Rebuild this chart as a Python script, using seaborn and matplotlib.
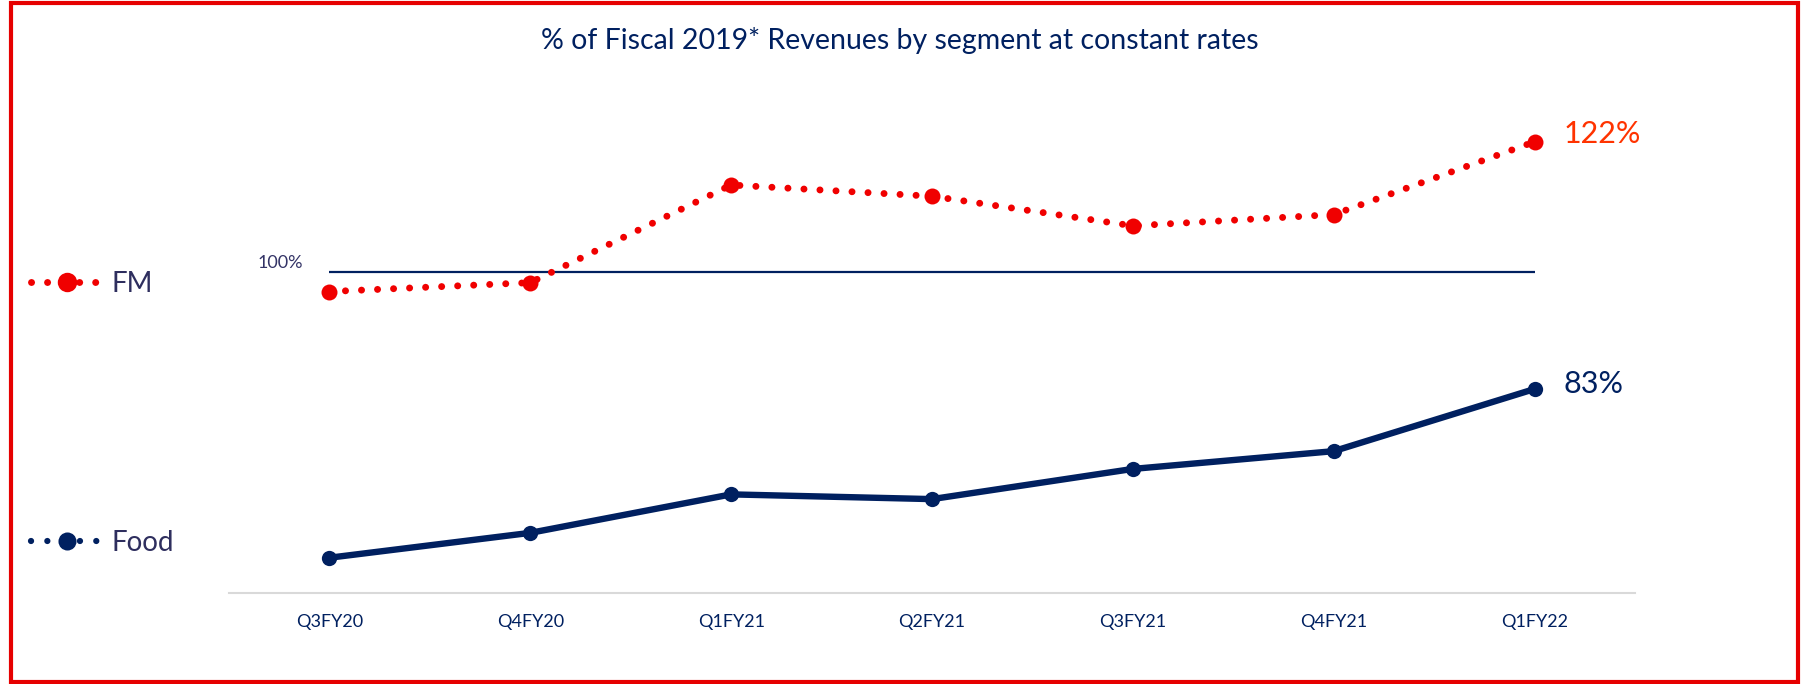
import matplotlib
matplotlib.use("Agg")
import matplotlib.pyplot as plt
import pandas as pd
import seaborn as sns
from matplotlib.lines import Line2D
from matplotlib.patches import Rectangle

quarters = ["Q3FY20", "Q4FY20", "Q1FY21", "Q2FY21", "Q3FY21", "Q4FY21", "Q1FY22"]
fm_pct = [96.7, 98.2, 114.7, 112.8, 107.8, 109.7, 122]
food_pct = [54.5, 58.7, 65.2, 64.4, 69.5, 72.5, 83]
baseline = 100
title = "% of Fiscal 2019* Revenues by segment at constant rates"

RED = "#F00000"
NAVY = "#002060"
LABEL_RED = "#FF3300"
LEGEND_TXT = "#2E2E5E"
GRID_GRAY = "#D9D9D9"

sns.set_style("white")
plt.rcParams["font.family"] = ["Lato", "DejaVu Sans"]
plt.rcParams["lines.dash_capstyle"] = "round"

df = pd.DataFrame({"quarter": quarters, "FM": fm_pct, "Food": food_pct})

W, H = 1803, 684
fig = plt.figure(figsize=(W / 100, H / 100), dpi=100)
fig.patch.set_facecolor("white")

# axes placed in pixel terms: x from 229 to 1635, y from 100 (top) to 592.7 (axis line)
ax = fig.add_axes([229 / W, (H - 592.7) / H, (1635 - 229) / W, (592.7 - 100) / H])
ax2 = ax.twinx()

px_per_unit = 5.92
# Food: 83 sits at y=389px
ax.set_ylim(83 - (592.7 - 389) / px_per_unit, 83 + (389 - 100) / px_per_unit)
# FM: 100 sits at y=272px
ax2.set_ylim(100 - (592.7 - 272) / px_per_unit, 100 + (272 - 100) / px_per_unit)

sns.lineplot(data=df, x="quarter", y="Food", ax=ax, sort=False, color=NAVY,
             lw=4.6, marker="o", ms=11, markeredgewidth=0)
ax2.hlines(baseline, 0, len(quarters) - 1, color=NAVY, lw=1.6, zorder=1)
sns.lineplot(data=df, x="quarter", y="FM", ax=ax2, sort=False, color=RED,
             lw=5, linestyle=(0, (0.01, 2.3)), marker="o", ms=11.5,
             markeredgewidth=0, zorder=3)

for a in (ax, ax2):
    a.set_xlim(-0.5, len(quarters) - 0.5)
    a.set_ylabel("")
    a.set_xlabel("")
    a.set_yticks([])
    for s in a.spines.values():
        s.set_visible(False)

ax.spines["bottom"].set_visible(True)
ax.spines["bottom"].set_color(GRID_GRAY)
ax.spines["bottom"].set_linewidth(1.5)
ax.set_xticks(range(len(quarters)))
ax.set_xticklabels(quarters)
ax.set_xticks([i - 0.5 for i in range(len(quarters) + 1)], minor=True)
ax.tick_params(axis="x", which="major", length=0, pad=15, labelsize=13, labelcolor=NAVY)
ax.tick_params(axis="x", which="minor", length=6, width=1.2, color=GRID_GRAY, direction="out")
ax.grid(False)
ax2.grid(False)

ax2.annotate(f"{baseline}%", xy=(0, baseline), xytext=(-19, 1), textcoords="offset points",
             ha="right", va="bottom", fontsize=13, color="#333366")
ax2.annotate(f"{fm_pct[-1]}%", xy=(len(quarters) - 1, fm_pct[-1]), xytext=(21, -1),
             textcoords="offset points", ha="left", va="baseline", fontsize=22, color=LABEL_RED)
ax.annotate(f"{food_pct[-1]}%", xy=(len(quarters) - 1, food_pct[-1]), xytext=(21, -3),
            textcoords="offset points", ha="left", va="baseline", fontsize=22, color=NAVY)

fig.text(900 / W, 1 - 41 / H, title, ha="center", va="center", fontsize=20.5, color=NAVY)

fm_handle = Line2D([], [], color=RED, lw=5, linestyle=(0, (0.01, 2.3)), marker="o",
                   ms=14, markeredgewidth=0)
food_handle = Line2D([], [], color=NAVY, lw=4.5, linestyle=(0, (0.01, 2.6)), marker="o",
                     ms=13, markeredgewidth=0)
for handle, label, ypx in [(fm_handle, "FM", 284), (food_handle, "Food", 543)]:
    fig.legend([handle], [label], loc="center left", bbox_to_anchor=(31 / W, 1 - ypx / H),
               frameon=False, fontsize=20, labelcolor=LEGEND_TXT, numpoints=1,
               handlelength=2.6, handletextpad=0.3, borderpad=0, borderaxespad=0)

fig.patches.append(Rectangle((10.5 / W, 2 / H), (1798 - 10.5) / W, (681 - 2) / H,
                             transform=fig.transFigure, fill=False, edgecolor="#E60000",
                             lw=3, zorder=10))

fig.savefig("out.png", dpi=100, facecolor="white")
